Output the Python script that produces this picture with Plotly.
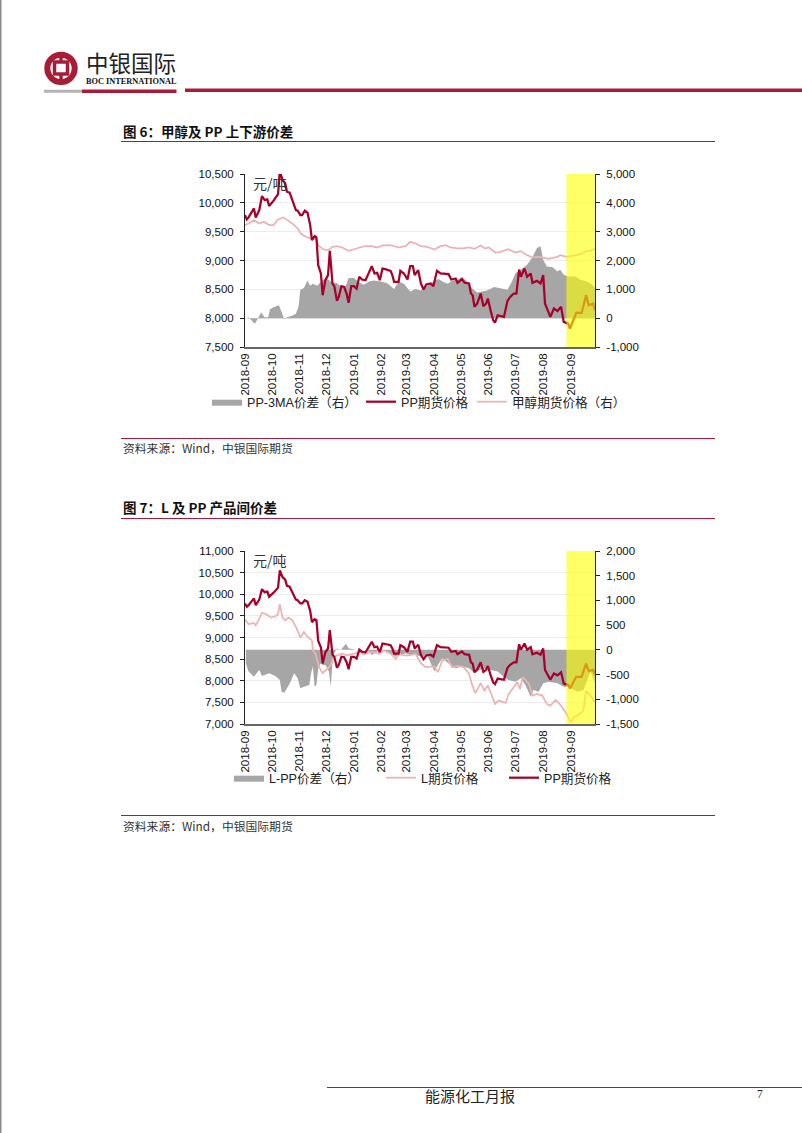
import pandas as pd
import plotly.graph_objects as go

W, H = 802, 1133
START = pd.Timestamp("2018-09-01")
END = "2019-09-28"

MONTH_TICKS = ["2018-09-01","2018-10-01","2018-11-01","2018-12-01","2019-01-01","2019-02-01","2019-03-01",
               "2019-04-01","2019-05-01","2019-06-01","2019-07-01","2019-08-01","2019-09-01"]
MONTH_LABELS = ["2018-09","2018-10","2018-11","2018-12","2019-01","2019-02","2019-03",
                "2019-04","2019-05","2019-06","2019-07","2019-08","2019-09"]

# days since 2018-09-01 and values
PP_DAYS = [0,2,4,10,12,16,19,22,25,27,32,37,39,42,45,47,50,54,57,59,62,64,67,70,73,75,78,80,82,85,87,90,93,95,98,100,103,105,108,111,114,116,119,122,125,128,131,135,139,142,145,148,151,154,157,163,165,167,172,174,178,182,185,188,190,194,197,200,203,208,211,215,219,228,231,236,238,243,246,251,253,255,257,260,264,267,270,272,275,278,280,283,290,294,297,301,304,307,309,313,316,320,322,327,331,334,336,339,342,346,350,354,357,362,364,368,371,377,382,385,390,392]
PP_PRICE = [9788,9713,9747,9904,9747,9875,10118,10048,10060,9944,10037,10153,10550,10396,10338,10193,10176,10002,9875,9863,9788,9788,9863,9828,9614,9354,9423,9400,8919,8775,8398,8659,8746,9168,8601,8555,8300,8369,8555,8543,8416,8265,8555,8555,8514,8717,8670,8659,8804,8902,8775,8786,8659,8861,8850,8821,8746,8630,8630,8821,8775,8670,8902,8902,8746,8832,8601,8497,8584,8601,8555,8821,8775,8763,8670,8688,8613,8676,8613,8601,8427,8398,8196,8253,8427,8207,8253,8340,8138,7964,7923,8051,8022,8300,8369,8427,8427,8844,8717,8861,8717,8775,8613,8647,8601,8746,8253,8138,8022,8167,8126,8196,7935,7906,7819,7976,8091,8091,8398,8225,8253,8138]

METHANOL_DAYS = [0,4,10,16,21,27,32,37,43,47,53,59,63,68,73,79,83,88,93,98,103,109,116,122,128,135,142,148,154,163,172,180,185,191,197,204,212,219,225,230,238,245,251,257,264,269,273,281,286,295,303,309,316,322,327,333,340,350,353,361,368,376,383,387,392]
METHANOL_PRICE = [3228,3286,3402,3286,3344,3228,3228,3425,3495,3402,3286,3112,2916,2823,2765,2765,2499,2383,2360,2476,2499,2452,2337,2383,2452,2499,2499,2452,2522,2533,2452,2499,2649,2591,2499,2476,2383,2499,2533,2452,2418,2418,2452,2406,2522,2418,2452,2267,2302,2394,2279,2325,2186,2105,2128,2105,2059,2128,2186,2128,2163,2221,2337,2337,2418]

PP3MA_DAYS = [3,6,11,14,18,22,26,28,32,38,42,44,47,53,57,60,62,66,70,73,76,81,87,92,98,103,109,113,116,122,128,133,139,144,152,159,167,172,178,185,191,197,202,208,213,217,221,227,232,238,243,249,254,260,266,271,279,286,294,299,303,309,316,322,327,331,334,338,344,350,353,357,362,370,376,383,389,392]
PP3MA_SPREAD = [58,-35,-197,-35,197,35,35,313,382,452,151,-35,35,81,151,405,984,1042,1309,1123,1193,1123,1332,1355,1239,1216,1042,1123,1390,1390,1239,1158,1274,1309,1274,1216,1008,1274,1193,926,1008,961,1077,1193,1309,1355,1274,1193,1309,1332,1424,1274,1042,891,926,961,1077,1042,984,1274,1563,1679,1853,2119,2432,2490,2027,1795,1772,1621,1679,1505,1448,1448,1332,1274,1158,1042]

L_DAYS = [0,4,10,12,16,19,24,29,34,37,39,42,45,49,53,58,62,66,70,75,76,79,83,87,92,96,99,103,109,114,122,128,133,139,144,150,156,163,169,172,178,184,191,197,202,212,216,221,227,232,238,245,251,254,258,264,268,272,276,280,284,292,295,301,305,308,311,318,322,327,333,338,342,348,353,359,365,368,374,379,382,387,392]
L_PRICE = [9414,9306,9337,9282,9437,9569,9538,9460,9491,9538,9770,9460,9398,9460,9398,9205,8996,9128,9012,8934,8702,8625,8315,8176,8277,8354,8547,8586,8625,8586,8625,8663,8609,8663,8663,8625,8702,8625,8509,8625,8586,8586,8625,8408,8315,8331,8199,8470,8509,8315,8346,8315,8161,7928,7712,7944,7774,7890,7681,7464,7542,7487,7681,7851,7967,7812,8083,7928,7658,7696,7658,7464,7426,7557,7449,7271,7039,7155,7217,7309,7758,7658,7503]

LPP_DAYS = [1,4,10,16,19,27,34,39,41,44,47,51,55,59,62,66,72,74,76,78,80,82,85,87,90,94,96,98,100,103,105,108,113,116,124,131,137,142,148,154,159,163,169,174,180,185,191,197,204,212,216,221,230,236,243,251,257,262,270,275,283,290,295,303,309,314,320,323,329,334,340,350,357,362,372,379,387,392]
LPP_SPREAD = [-271,-440,-542,-406,-528,-474,-528,-609,-846,-867,-779,-643,-474,-575,-779,-745,-711,-474,-339,-745,-711,-372,-271,-305,-305,-440,-745,-271,-68,34,0,14,122,34,0,0,0,-102,-34,-14,-34,-81,-135,-102,-68,-102,-102,-135,-102,-440,-305,-169,-305,-372,-339,-372,-474,-406,-372,-406,-440,-555,-609,-643,-575,-711,-948,-812,-846,-677,-643,-677,-745,-745,-846,-812,-440,-677]

LEFT1_TICKS = [7500,8000,8500,9000,9500,10000,10500]
RIGHT1_TICKS = [-1000,0,1000,2000,3000,4000,5000]
LEFT2_TICKS = [7000,7500,8000,8500,9000,9500,10000,10500,11000]
RIGHT2_TICKS = [-1500,-1000,-500,0,500,1000,1500,2000]

TITLE1 = "图 6：甲醇及 PP 上下游价差"
TITLE2 = "图 7：L 及 PP 产品间价差"
SOURCE = "资料来源：Wind，中银国际期货"
FOOTER = "能源化工月报"
UNIT = "元/吨"

RED = "#A6002B"
PINK = "#EBB3B3"
GREY = "#A6A6A6"
LINE = "#A81C38"
SANS = "Liberation Sans, Noto Sans CJK SC"
CJK = "Noto Sans CJK SC"


def dates(days):
    return START + pd.to_timedelta(days, unit="D")


def px(x):
    return x / W


def py(y):
    return 1 - y / H


shapes, annos = [], []


def rule(x0, x1, y, color=LINE, width=1):
    shapes.append(dict(type="line", xref="paper", yref="paper", x0=px(x0), x1=px(x1), y0=py(y), y1=py(y),
                       line=dict(color=color, width=width)))


def text(x, y, s, size=12, color="#222222", font=CJK, anchor="left", bold=False):
    if bold:
        s = "<b>" + s + "</b>"
    annos.append(dict(xref="paper", yref="paper", x=px(x), y=py(y), text=s, showarrow=False, xanchor=anchor,
                      yanchor="middle", font=dict(size=size, color=color, family=font)))


fig = go.Figure()


def area(name, days, vals, ya, xa, leg):
    fig.add_trace(go.Scatter(x=dates(days), y=vals, name=name, mode="lines", fill="tozeroy",
                             line=dict(color=GREY, width=0), fillcolor=GREY, xaxis=xa, yaxis=ya, legend=leg))


def curve(name, days, vals, color, width, ya, xa, leg):
    fig.add_trace(go.Scatter(x=dates(days), y=vals, name=name, mode="lines",
                             line=dict(color=color, width=width), xaxis=xa, yaxis=ya, legend=leg))


area("PP-3MA价差（右）", PP3MA_DAYS, PP3MA_SPREAD, "y2", "x", "legend")
curve("PP期货价格", PP_DAYS, PP_PRICE, RED, 2.25, "y", "x", "legend2")
curve("甲醇期货价格（右）", METHANOL_DAYS, METHANOL_PRICE, PINK, 1.75, "y2", "x", "legend3")

area("L-PP价差（右）", LPP_DAYS, LPP_SPREAD, "y4", "x2", "legend4")
curve("L期货价格", L_DAYS, L_PRICE, PINK, 1.75, "y3", "x2", "legend5")
curve("PP期货价格", PP_DAYS, PP_PRICE, RED, 2.25, "y3", "x2", "legend6")

x_dom = [px(245), px(595)]
TICK = dict(size=11.5, color="#111111", family=SANS)


def xaxis():
    return dict(domain=x_dom, range=[str(START.date()), END], type="date", tickmode="array", tickvals=MONTH_TICKS,
                ticktext=MONTH_LABELS, tickangle=-90, showgrid=False, showline=True, linecolor="#666666",
                linewidth=1.5, ticks="", tickfont=TICK, zeroline=False, automargin=False)


def left(top, bot, rng, ticks, over):
    return dict(domain=[py(bot), py(top)], range=rng, tickmode="array", tickvals=ticks,
                ticktext=[f"{t:,}" for t in ticks], showgrid=True, gridcolor="#EDEDED", gridwidth=1, showline=True,
                linecolor="#222222", linewidth=1, ticks="outside", ticklen=4, tickcolor="#222222", tickfont=TICK,
                ticklabelstandoff=4, zeroline=False, side="left", overlaying=over, automargin=False)


def right(top, bot, rng, ticks, xa):
    return dict(domain=[py(bot), py(top)], range=rng, tickmode="array", tickvals=ticks,
                ticktext=[f"{t:,}" for t in ticks], showgrid=False, showline=True, linecolor="#222222", linewidth=1,
                ticks="outside", ticklen=4, tickcolor="#222222", tickfont=TICK, ticklabelstandoff=4, zeroline=False,
                side="right", anchor=xa, automargin=False)


y1 = left(174, 347, [7500, 10500], LEFT1_TICKS, "y2")
y1["anchor"] = "x"
y3 = left(551, 724, [7000, 11000], LEFT2_TICKS, "y4")
y3["anchor"] = "x2"

# page furniture
shapes.append(dict(type="rect", xref="paper", yref="paper", x0=0, x1=px(1.5), y0=0, y1=1, line=dict(width=0),
                   fillcolor="#8C8C8C"))
rule(44, 82, 91.3, "#B3B3B3", 3)
rule(82, 176.5, 91.3, LINE, 3.5)
rule(185, 802, 90.3, LINE, 3.5)
for ln_y in (141.5, 438.5, 518.5, 815.5):
    rule(121, 715, ln_y, LINE, 1)
rule(327, 802, 1087.5, LINE, 1)

# emblem
shapes.append(dict(type="circle", xref="paper", yref="paper", x0=px(47.3), x1=px(74.7), y0=py(82), y1=py(54.7),
                   line=dict(color=LINE, width=6), fillcolor="white"))
shapes.append(dict(type="rect", xref="paper", yref="paper", x0=px(54.5), x1=px(67.5), y0=py(74), y1=py(62),
                   line=dict(color=LINE, width=3.5), fillcolor="white"))
shapes.append(dict(type="line", xref="paper", yref="paper", x0=px(61), x1=px(61), y0=py(56), y1=py(62),
                   line=dict(color=LINE, width=3.5)))
shapes.append(dict(type="line", xref="paper", yref="paper", x0=px(61), x1=px(61), y0=py(74), y1=py(80),
                   line=dict(color=LINE, width=3.5)))

text(84, 62, "中银国际", 22.5, "#222222", "Noto Sans CJK SC")
text(84, 81, "BOC INTERNATIONAL", 8.3, "#111111", "Liberation Serif", bold=True)
text(121, 131, TITLE1, 13.5, "#111111", CJK, bold=True)
text(121, 507, TITLE2, 13.5, "#111111", CJK, bold=True)
text(121, 448, SOURCE, 11.8, "#333333", CJK)
text(121, 825, SOURCE, 11.8, "#333333", CJK)
text(470, 1095, FOOTER, 15, "#222222", CJK, "center")
text(760, 1094, "7", 11.5, "#222222", "Liberation Serif", "center")
text(270, 183, UNIT, 14, "#333333", CJK, "center")
text(270, 560, UNIT, 14, "#333333", CJK, "center")

# highlighted last month
for ax, yr in (("x", "y2 domain"), ("x2", "y4 domain")):
    shapes.append(dict(type="rect", xref=ax, yref=yr, x0="2019-08-27", x1=END, y0=0, y1=1, layer="above",
                       line=dict(width=0), fillcolor="rgba(255,255,0,0.6)"))


def legend(x, y):
    return dict(orientation="h", x=px(x), y=py(y), xanchor="left", yanchor="middle", bgcolor="rgba(0,0,0,0)",
                font=dict(size=12.6, family=SANS, color="#222222"), itemwidth=30, itemclick=False,
                itemdoubleclick=False)


fig.update_layout(
    width=W, height=H, margin=dict(l=0, r=0, t=0, b=0, autoexpand=False), paper_bgcolor="white",
    plot_bgcolor="rgba(0,0,0,0)", showlegend=True,
    legend=legend(207, 402), legend2=legend(361, 402), legend3=legend(472, 402),
    legend4=legend(229, 778), legend5=legend(381, 778), legend6=legend(504, 778),
    xaxis=dict(xaxis(), anchor="y2"), xaxis2=dict(xaxis(), anchor="y4"),
    yaxis=y1, yaxis2=right(174, 347, [-1000, 5000], RIGHT1_TICKS, "x"),
    yaxis3=y3, yaxis4=right(551, 724, [-1500, 2000], RIGHT2_TICKS, "x2"),
    shapes=shapes, annotations=annos,
)

fig.write_html("out.html", config=dict(displayModeBar=False),
               post_script="document.documentElement.style.margin='0';document.body.style.margin='0';")
